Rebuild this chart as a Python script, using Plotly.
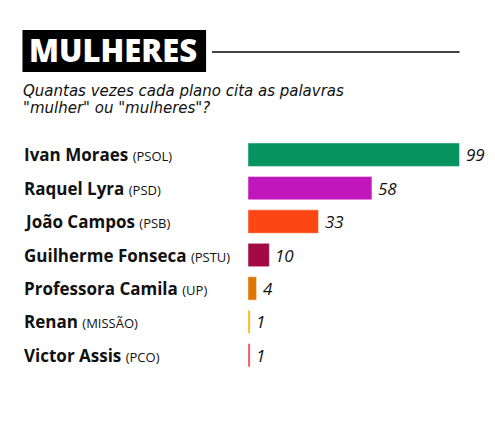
import plotly.graph_objects as go

# data
names = ["Ivan Moraes", "Raquel Lyra", "João Campos", "Guilherme Fonseca",
         "Professora Camila", "Renan", "Victor Assis"]
parties = ["PSOL", "PSD", "PSB", "PSTU", "UP", "MISSÃO", "PCO"]
counts = [99, 58, 33, 10, 4, 1, 1]
colors = ["#06935f", "#c016bb", "#fc4613", "#a30a44", "#e07500", "#fdb00a", "#ef3f57"]

W, H = 495, 431
OFF = 8  # page body margin
ML, MT = 240, 130
PW, PH = 235.5, 234
MR = W - ML - PW
MB = H - MT - PH


def px(x):
    return (x - OFF - ML) / PW


def py(y):
    return (H - MB - (y - OFF)) / PH


fig = go.Figure()

fig.add_trace(go.Bar(
    x=counts,
    y=names,
    orientation="h",
    marker=dict(color=colors, line=dict(color="rgba(255,255,255,0.45)", width=1)),
    width=0.7,
    hoverinfo="skip",
))

# value labels
for name, c in zip(names, counts):
    fig.add_annotation(
        x=c, y=name, xref="x", yref="y", xanchor="left", yanchor="middle",
        xshift=4, showarrow=False, text=str(c),
        font=dict(family="Open Sans", size=17, color="#111", style="italic"),
    )

# candidate labels on the left
for name, party in zip(names, parties):
    fig.add_annotation(
        x=px(22), xref="paper", y=name, yref="y",
        xanchor="left", yanchor="middle", showarrow=False,
        text=f"<b>{name}</b> <span style='font-size:13px;font-weight:500'>({party})</span>",
        font=dict(family="Open Sans", size=17, color="#111"),
    )

# title block
fig.add_shape(type="rect", xref="paper", yref="paper",
              x0=px(22), x1=px(206), y0=py(72), y1=py(30),
              fillcolor="#000", line=dict(width=0))
fig.add_shape(type="line", xref="paper", yref="paper",
              x0=px(212), x1=px(460), y0=py(52), y1=py(52),
              line=dict(color="#000", width=1.5))
fig.add_annotation(
    x=px(113), y=py(50), xref="paper", yref="paper",
    xanchor="center", yanchor="middle", showarrow=False,
    text="MULHERES",
    font=dict(family="Open Sans", size=31, color="#fff", weight=800),
)
subtitle = ["Quantas vezes cada plano cita as palavras", "\"mulher\" ou \"mulheres\"?"]
for i, line in enumerate(subtitle):
    fig.add_annotation(
        x=px(21), y=py(91 + 17 * i), xref="paper", yref="paper",
        xanchor="left", yanchor="middle", showarrow=False,
        text=line,
        font=dict(family="DejaVu Sans", size=15, color="#111", style="italic"),
    )

fig.update_layout(
    width=W, height=H,
    margin=dict(l=ML, r=MR, t=MT, b=MB, pad=0),
    paper_bgcolor="#fff", plot_bgcolor="#fff",
    showlegend=False,
    bargap=0.3,
)
fig.update_xaxes(range=[0, 110], visible=False)
fig.update_yaxes(autorange="reversed", showticklabels=False, showgrid=False,
                 zeroline=False, showline=False, ticks="")

fig.write_html("out.html")
